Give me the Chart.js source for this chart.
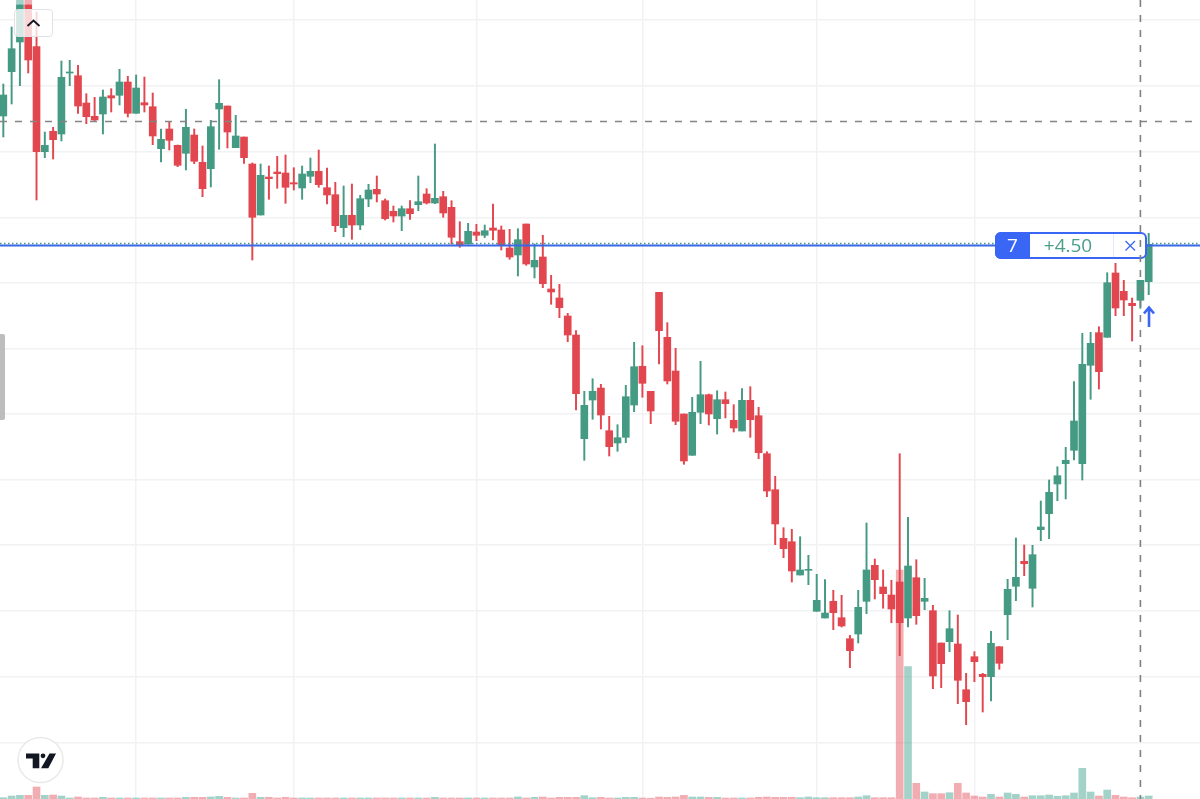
<!DOCTYPE html>
<html>
<head>
<meta charset="utf-8">
<title>Chart</title>
<script src="https://cdn.jsdelivr.net/npm/chart.js@4"></script>
<style>
    html, body { margin: 0; padding: 0; background: #fff; overflow: hidden; }
    #wrap { position: relative; width: 1200px; height: 799px; }
    #chart { position: absolute; left: 0; top: 0; }
    #overlay { position: absolute; left: 0; top: 0; }
    #grip { position: absolute; left: 0; top: 334px; width: 5px; height: 86px; background: #bdbdbd; border-radius: 0 2px 2px 0; }
    #collapse { position: absolute; left: 14px; top: 9px; width: 37px; height: 26px; border: 1.5px solid #e0e2e6; border-radius: 4px; background: rgba(255,255,255,.78); }
    #order { position: absolute; left: 995px; top: 232px; width: 152px; height: 27px; box-sizing: border-box; border: 2px solid #3a66f5; border-radius: 6px; background: #fff; font: 19px "Open Sans", sans-serif; line-height: 23px; }
    #order .qty { position: absolute; left: -2px; top: -2px; width: 35px; height: 27px; line-height: 27px; background: #3a66f5; color: #fff; text-align: center; border-radius: 6px 0 0 6px; }
    #order .pnl { position: absolute; left: 33px; width: 84px; box-sizing: border-box; padding-right: 7px; top: 0; height: 23px; text-align: center; color: #4a9e8a; border-right: 1px solid #e3e9fb; }
</style>
</head>
<body>
<div id="wrap">
    <canvas id="chart" width="1200" height="799"></canvas>
    <div id="grip"></div>
    <div id="collapse"></div>
    <div id="order"><span class="qty">7</span><span class="pnl">+4.50</span></div>
    <svg id="overlay" width="1200" height="799" viewBox="0 0 1200 799">
        <path d="M27.5 26 L33.5 20.5 L39.5 26" fill="none" stroke="#131722" stroke-width="1.8"/>
        <path d="M1125.5 241 L1135 250.5 M1135 241 L1125.5 250.5" stroke="#3a66f5" stroke-width="1.3"/>
        <path d="M1149 327 V308 M1144 313.5 L1149 307.5 L1154 313.5" fill="none" stroke="#3a66f5" stroke-width="2.6"/>
        <circle cx="40.5" cy="760" r="22.5" fill="#fff" stroke="#e9e9e9" stroke-width="1.5"/>
        <path d="M26 753.5 H39.3 V768.3 H32.7 V758.5 H26 Z M49.5 753.5 H56 L48.3 768.3 H41 Z" fill="#131722"/>
        <circle cx="43" cy="755.8" r="2.4" fill="#131722"/>
        <line id="crosshair" y1="0" y2="799" stroke="#808080" stroke-width="1.6" stroke-dasharray="7 8"/>
    </svg>
</div>
<script>
const opens = [884,928.3,958,995,953.3,848.3,868.7,866,927,924.3,897,883.7,886,904.3,904.7,918,886.7,897.3,893.3,851.3,871,854.7,846.7,865,837.7,831.3,891,894,852.3,863,836,785,823,828,827,817.3,812,823.7,828.7,812.3,805.3,772.3,784.7,775,801,810.7,799.3,788.7,784,791.3,795.3,806,797,803.3,792.7,758.3,756,768,764.7,772,770,752,745,776,733,743,711,702,684,665,561.3,600,612,569.3,557,562.7,595,633.7,608.7,707.7,662.7,629,586,544.7,587.7,605.3,581.3,600.3,579.7,569,599.7,584.3,546.3,510.3,461.7,458.3,425,429.7,388.7,382,398.7,382.3,361.3,366,398.7,434.7,413,405,418,382,422.3,398.7,389.3,357,358.3,356,310.3,343.3,325.7,323.3,353.3,385.3,413.7,438.7,411.7,470.3,486.3,516,536.3,549.7,536.3,634.7,667.3,662.7,727,708.7,696.7,699.7,718.3];
const highs = [916,973,995,995,988,868,872.7,939,939.7,934.7,906.3,902.7,910,911.3,930.7,923.7,925,923,907,871,877.7,855,890.7,871,854,879.7,920.3,894,884.7,863,837,836,834,843.7,845,832.3,834,842,850,832,817.7,814,816,804.7,815.7,824,801,794,794,799.3,824,811.3,856,808.7,799.3,778.3,776.7,775.7,775,796,774,770.7,771.3,776,756,764.7,724.7,715.7,686.7,669.3,608.7,621.3,615.7,583.7,575.3,614.7,657.7,654.3,608.7,707.7,677.3,651.7,586,602.7,638.7,606,609.3,608,595.3,611.3,613.3,592.7,548.3,523.7,472.3,470.7,463.3,444.7,425.7,420.3,409.7,404.7,364.7,409.7,477,441,430,419.7,546.3,482.7,440.3,421.7,394.7,357,389.3,385,326.7,348.3,326.7,368.7,353.3,420.7,462,455,454.7,499,520,533.3,552.7,618.3,666.7,667.7,673.3,727.3,736.7,719.7,702,719.7,766.7];
const lows = [863,896,914.3,927,800,842.3,841,859,914.3,886.7,876.3,878.3,866,888,895,883,886.7,888,855.3,838,850,833.3,830,836.3,803.3,813,850.7,852,852.3,836.7,740,785,800.7,811.7,796.7,810,800.7,817.3,812.7,796,768.3,763.3,760.7,770.3,793.3,798,780,778,769.3,780.7,789.3,796,796.3,782.7,756,752.7,756,759.3,762.3,760,750,740.7,724,734.7,722,712.3,695.7,682.3,658.3,590,539.7,580.7,571,544,548.7,557.3,588.3,602.7,576.3,636,616,575.3,535.7,544.7,576.3,575,566,582,568,569,562.7,541.3,503.3,455.3,442.3,418,425,415.3,388.7,382,370.3,373,332.3,357,386.3,401,391.7,377.3,344.3,373,375.7,390.3,311.3,312.3,348.3,296.3,275.3,318.3,288,299,330.7,360.3,399.3,424.3,393,459.3,461.3,499.3,501,540,520,600.7,611,662.7,684.3,684.3,659,691.7,705.3];
const closes = [905,951.3,995,940,848.3,854.7,860.3,922.7,928,894,883.3,880,903,902,918,886.7,912,895,864,860.7,859.7,834.7,872.7,838.7,811.3,873.3,896.7,868,864,842.3,782.7,824.7,821.3,826.3,812.7,816,826,828.7,815.3,805,774.3,784.7,775,801.3,810,806,781.3,784,791.3,786.3,798.3,797,801.7,787,762.7,754.3,768.7,764.7,769.3,769.7,755,743,760.3,736,739.7,716.3,708,692.3,665,606.3,594.7,608.7,585,553.3,562.3,603.3,633.3,616.7,589,669.3,619,578.7,539,587.7,605.3,586,600.3,596.3,572,599.7,580.3,547.3,509,476,451.3,429,430,430.7,399.7,387,387.3,374,349.3,392.7,430,420.3,406.3,391,377.3,434,384.3,401.7,324,336.3,371.3,319.7,298.3,338.3,323.3,356.7,336.7,410.7,422.7,436.3,445.3,473,507.7,524.3,539.7,579,635.7,656.7,628.3,717.3,692,700,694.3,719.7,755.7];
const volumes = [1.3,3,3.7,3.7,12,3.7,4,3,1,2,1,1,1.7,1,1,1,1,1,1,1,1,1,1.7,1.7,1.7,2,2.7,1.7,1,1,5.7,1.7,1.7,1,1.7,1,1,1,1,1,1,1,1,1,1,1,1,1,1,1,1,1,1.7,1,1,1,1,1,1,1,1,1,2,1,1.7,2,1,1.7,1.7,1.7,3.3,1.3,1.7,1,1,1.7,1.7,1,0.8,2,1.7,2,3.7,2,2,1.7,1.7,1,1,1,1,1.7,2,1.7,1.7,1.7,1.3,2,1.3,1.3,1.3,1.3,1.3,2,3.3,1.3,1.3,1.3,229,132.3,15.7,7,5.3,5.3,6.3,15.7,6,3,2,4.7,2,6,4.7,2,3.3,3.3,4,2.7,3.3,6,30.7,7,3,9,3.7,2,1.3,2,3];
// bars cut by the top edge, above candles 2 and 3
const clippedIdx = [2, 3];
const clippedRange = [995, 1000];

const gridPrices = [980, 914.3, 848.7, 782.7, 717.7, 651.7, 586.3, 520.7, 455.3, 389.7, 323.7, 257.7];
const gridIdx = [16, 35, 57, 77, 98, 117];
const alertPrice = 878.5;
const positionPrice = 754.5;
const lastPrice = 756.5;
const crosshairIdx = 137;

const UP = '#459a84', DOWN = '#e2474f';
const UP_VOL = 'rgba(69,165,145,.5)', DOWN_VOL = 'rgba(226,80,90,.47)';

const isUp = i => closes[i] >= opens[i];
const candleIdx = opens.map((_, i) => i);

const priceLines = {
    id: 'priceLines',
    afterDatasetsDraw(chart) {
        const { ctx, chartArea: { left, right }, scales: { y } } = chart;
        const hLine = (price, color, width, dash) => {
            ctx.save();
            ctx.strokeStyle = color;
            ctx.lineWidth = width;
            ctx.setLineDash(dash);
            ctx.beginPath();
            ctx.moveTo(left, y.getPixelForValue(price));
            ctx.lineTo(right, y.getPixelForValue(price));
            ctx.stroke();
            ctx.restore();
        };
        hLine(alertPrice, '#858585', 1.6, [7, 8]);
        hLine(lastPrice, '#459a84', 1.3, [1.5, 2.5]);
        hLine(positionPrice, '#3a66e8', 2, []);
    },
};

const chart = new Chart(document.getElementById('chart').getContext('2d'), {
    type: 'bar',
    plugins: [priceLines],
    data: {
        datasets: [
            {
                label: 'Volume',
                yAxisID: 'yVol',
                data: candleIdx.map(i => ({ x: i, y: volumes[i] })),
                backgroundColor: candleIdx.map(i => isUp(i) ? UP_VOL : DOWN_VOL),
                barThickness: 7,
                order: 4,
            },
            {
                label: 'Clipped',
                data: clippedIdx.map(i => ({ x: i, y: clippedRange })),
                backgroundColor: clippedIdx.map(i => isUp(i) ? UP_VOL : DOWN_VOL),
                barThickness: 7,
                order: 3,
            },
            {
                label: 'Wick',
                data: candleIdx.map(i => ({ x: i, y: [lows[i], highs[i]] })),
                backgroundColor: candleIdx.map(i => isUp(i) ? UP : DOWN),
                barThickness: 1.3,
                order: 2,
            },
            {
                label: 'Body',
                data: candleIdx.map(i => ({ x: i, y: [opens[i], closes[i]] })),
                backgroundColor: candleIdx.map(i => isUp(i) ? UP : DOWN),
                barThickness: 7,
                order: 1,
            },
        ],
    },
    options: {
        responsive: false,
        animation: false,
        layout: { padding: 0 },
        grouped: false,
        plugins: { legend: { display: false }, tooltip: { enabled: false } },
        scales: {
            x: {
                type: 'linear',
                min: -0.4,
                max: 144.18,
                offset: false,
                border: { display: false },
                ticks: { display: false },
                grid: { color: '#f1f2f4', lineWidth: 1.5, drawTicks: false, offset: false },
                afterBuildTicks: s => { s.ticks = gridIdx.map(value => ({ value })); },
            },
            y: {
                min: 201,
                max: 1000,
                border: { display: false },
                ticks: { display: false },
                grid: { color: '#f1f2f4', lineWidth: 1.5, drawTicks: false },
                afterBuildTicks: s => { s.ticks = gridPrices.map(value => ({ value })); },
            },
            yVol: {
                display: false,
                min: 0,
                max: 799,
            },
        },
    },
});

const crossX = chart.scales.x.getPixelForValue(crosshairIdx);
const crosshair = document.getElementById('crosshair');
crosshair.setAttribute('x1', crossX);
crosshair.setAttribute('x2', crossX);
</script>
</body>
</html>
